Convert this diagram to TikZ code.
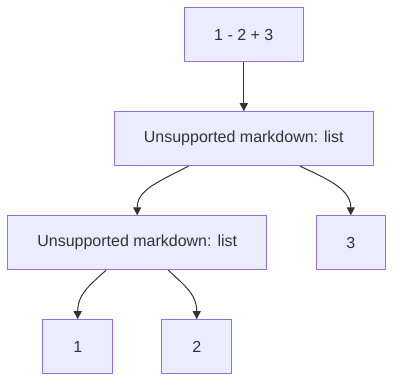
\documentclass[tikz,border=0pt]{standalone}
\usepackage{fontspec}
\setmainfont{Liberation Sans}
\usetikzlibrary{arrows.meta}
\definecolor{nodefill}{HTML}{ECECFF}
\definecolor{nodeline}{HTML}{9370DB}
\definecolor{ink}{HTML}{333333}
\begin{document}
\begin{tikzpicture}[x=1pt,y=-1pt,
  box/.style={draw=nodeline,fill=nodefill,line width=1pt,text=ink,
    font=\fontsize{16}{19}\selectfont,inner sep=0pt,minimum height=54pt},
  edge/.style={draw=ink,line width=1pt,-{Triangle[length=8pt,width=8pt]}}]
\useasboundingbox (0,0) rectangle (393,382);
\fill[white] (0,0) rectangle (393,382);
\node[box,minimum width=119pt] (a) at (243.8,34.7) {1 - 2 + 3};
\node[box,minimum width=259pt] (b) at (243.8,138.7) {Unsupported markdown: list};
\node[box,minimum width=259pt] (c) at (137.2,242.8) {Unsupported markdown: list};
\node[box,minimum width=69.5pt] (d) at (350.8,242.8) {3};
\node[box,minimum width=69.5pt] (e) at (77.7,346.7) {1};
\node[box,minimum width=69.5pt] (f) at (196.7,346.7) {2};
\draw[edge] (a.south) -- (b.north);
\draw[edge] ([xshift=-55.5pt]b.south) .. controls (158,182) and (137.2,190) .. (c.north);
\draw[edge] ([xshift=56.2pt]b.south) .. controls (330,180) and (350.8,190) .. (d.north);
\draw[edge] ([xshift=-31.2pt]c.south) .. controls (86,288) and (77.7,296) .. (e.north);
\draw[edge] ([xshift=31.1pt]c.south) .. controls (188,288) and (196.7,296) .. (f.north);
\end{tikzpicture}
\end{document}
